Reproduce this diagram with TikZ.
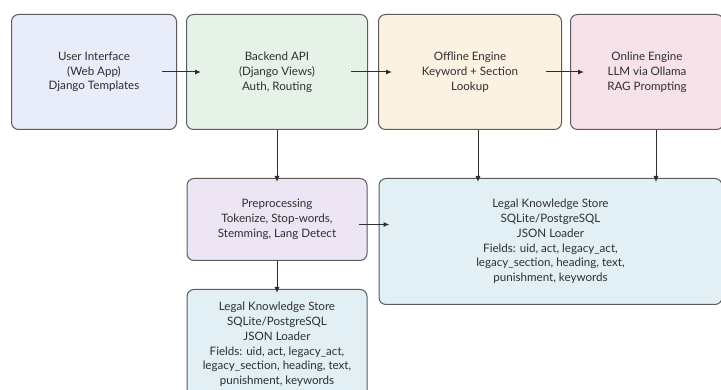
\documentclass[tikz,border=0pt]{standalone}
\usepackage{fontspec}
\setmainfont{Lato}
\usepackage{xcolor}
\usetikzlibrary{positioning,arrows.meta}
\definecolor{uiblue}{HTML}{E9ECF9}
\definecolor{apigreen}{HTML}{E6F2E8}
\definecolor{offcream}{HTML}{FCF2E2}
\definecolor{onpink}{HTML}{F8E2EA}
\definecolor{prepurple}{HTML}{EEE5F4}
\definecolor{storecyan}{HTML}{E2F0F5}
\definecolor{edgegray}{HTML}{5C5C5C}
\definecolor{textgray}{HTML}{2E2E2E}

\begin{document}
\begin{tikzpicture}[>={Latex[length=6pt,width=5pt]}]
    \tikzstyle{block} = [rectangle, rounded corners=7pt, draw=edgegray, line width=1pt, text centered, align=center, text=textgray, font=\fontsize{11.6}{14.8}\selectfont, inner sep=0pt]
    \tikzstyle{link} = [->, draw=textgray, line width=1pt]

    \clip (0,0) rectangle (721pt,-390pt);
    \fill[white] (0,0) rectangle (721pt,-390pt);

    % Top row
    \node [block, fill=uiblue, minimum width=165pt, minimum height=115pt, anchor=north west] at (11pt,-14pt) (ui) {User Interface\\(Web App)\\Django Templates};
    \node [block, fill=apigreen, minimum width=181pt, minimum height=115pt, right=9pt of ui] (backend) {Backend API\\(Django Views)\\Auth, Routing};
    \node [block, fill=offcream, minimum width=183pt, minimum height=115pt, right=10pt of backend] (offline) {Offline Engine\\Keyword + Section\\Lookup};
    \node [block, fill=onpink, minimum width=153pt, minimum height=115pt, right=8pt of offline] (online) {Online Engine\\LLM via Ollama\\RAG Prompting};

    % Processing and storage
    \node [block, fill=prepurple, minimum width=180pt, minimum height=82pt, below=48pt of backend] (pre) {Preprocessing\\Tokenize, Stop-words,\\Stemming, Lang Detect};
    \node [block, fill=storecyan, minimum width=343pt, minimum height=126pt, right=11pt of pre.north east, anchor=north west] (store) {Legal Knowledge Store\\SQLite/PostgreSQL\\JSON Loader\\Fields: uid, act, legacy\_act,\\legacy\_section, heading, text,\\punishment, keywords};
    \node [block, fill=storecyan, minimum width=180pt, minimum height=110pt, below=28pt of pre] (store_low) {Legal Knowledge Store\\SQLite/PostgreSQL\\JSON Loader\\Fields: uid, act, legacy\_act,\\legacy\_section, heading, text,\\punishment, keywords};

    % Arrows
    \draw [link] ([xshift=-15pt]ui.east) -- ([xshift=15pt]backend.west);
    \draw [link] ([xshift=-17pt]backend.east) -- ([xshift=14pt]offline.west);
    \draw [link] ([xshift=-16pt]offline.east) -- ([xshift=14pt]online.west);
    \draw [link] (backend.south) -- ([yshift=-4pt]pre.north);
    \draw [link] ([xshift=8pt]offline.south) -- ([xshift=8pt,yshift=-4pt]offline.south |- store.north);
    \draw [link] ([xshift=9pt]online.south) -- ([xshift=9pt,yshift=-4pt]online.south |- store.north);
    \draw [link] ([xshift=-9pt,yshift=-5pt]pre.east) -- ([xshift=11pt,yshift=-5pt]store.west |- pre.east);
    \draw [link] (pre.south) -- ([yshift=-4pt]store_low.north);
\end{tikzpicture}
\end{document}
